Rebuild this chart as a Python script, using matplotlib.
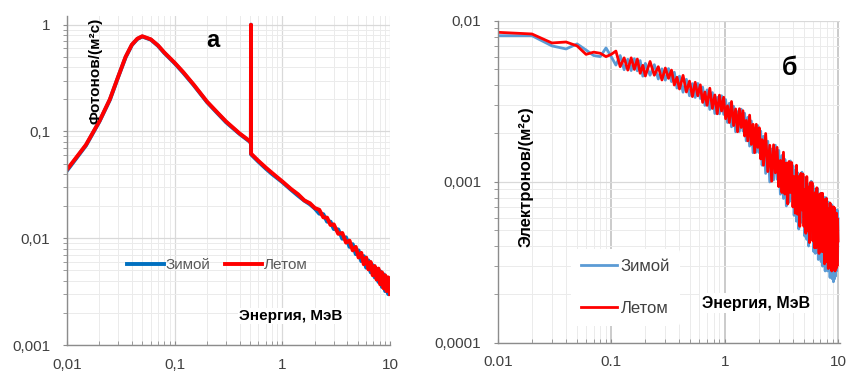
import matplotlib

matplotlib.use("Agg")
import matplotlib.pyplot as plt
from matplotlib.ticker import FixedLocator, FixedFormatter, LogLocator, NullFormatter

# ---- panel a: photons ----
photon_energy = [
    0.01, 0.015, 0.02, 0.025, 0.03, 0.035, 0.04, 0.045, 0.05, 0.06,
    0.07, 0.08, 0.1, 0.12, 0.15, 0.2, 0.25, 0.3, 0.4, 0.5,
    0.51, 0.511, 0.512, 0.6, 0.7, 0.8, 1.0, 1.2, 1.4, 1.6,
    1.8, 2.0, 2.2, 2.4, 2.6, 2.8, 3.0, 3.3, 3.6, 3.9,
    4.2, 4.5, 4.8, 5.1, 5.4, 5.7, 6.0, 6.3, 6.6, 6.9,
    7.2, 7.5, 7.8, 8.1, 8.4, 8.7, 9.0, 9.3, 9.6, 10.0,
]
photon_winter = [
    0.043, 0.074, 0.124, 0.198, 0.328, 0.495, 0.645, 0.735, 0.775, 0.725,
    0.635, 0.545, 0.435, 0.355, 0.272, 0.188, 0.148, 0.122, 0.095, 0.080,
    0.077, 1.0, 0.061, 0.052, 0.045, 0.040, 0.0335, 0.0285, 0.025, 0.0225,
    0.0208, 0.0190, 0.0170, 0.0168, 0.0143, 0.0143, 0.0122, 0.0121, 0.0099, 0.0102,
    0.0083, 0.0088, 0.0071, 0.0077, 0.0061, 0.0068, 0.0053, 0.0062, 0.0048, 0.0056,
    0.0043, 0.0052, 0.0039, 0.0049, 0.0035, 0.0046, 0.0032, 0.0043, 0.0030, 0.0042,
]
photon_summer = [
    0.044, 0.075, 0.125, 0.200, 0.330, 0.500, 0.650, 0.740, 0.780, 0.730,
    0.640, 0.550, 0.440, 0.360, 0.275, 0.190, 0.150, 0.124, 0.096, 0.081,
    0.078, 1.0, 0.062, 0.053, 0.046, 0.041, 0.034, 0.029, 0.0258, 0.0226,
    0.0213, 0.0192, 0.0185, 0.0157, 0.0156, 0.0133, 0.0135, 0.0110, 0.0112, 0.0091,
    0.0095, 0.0077, 0.0083, 0.0066, 0.0073, 0.0057, 0.0066, 0.0051, 0.0060, 0.0045,
    0.0055, 0.0041, 0.0052, 0.0037, 0.0048, 0.0034, 0.0045, 0.0032, 0.0043, 0.0030,
]

# ---- panel b: electrons (values in units of 1e-4) ----
electron_energy = [
    0.01, 0.02, 0.03, 0.04, 0.05, 0.06, 0.07, 0.08, 0.09, 0.10,
    0.11, 0.12, 0.13, 0.14, 0.15, 0.16, 0.17, 0.18, 0.19, 0.20,
    0.22, 0.24, 0.26, 0.28, 0.30, 0.32, 0.34, 0.36, 0.38, 0.40,
    0.43, 0.46, 0.49, 0.52, 0.55, 0.58, 0.61, 0.64, 0.67, 0.70,
    0.74, 0.78, 0.82, 0.86, 0.90, 0.94, 0.98, 1.02, 1.06, 1.10,
    1.15, 1.20, 1.25, 1.30, 1.35, 1.40, 1.45, 1.50, 1.55, 1.60,
    1.66, 1.72, 1.78, 1.84, 1.90, 1.96, 2.02, 2.08, 2.14, 2.20,
    2.3, 2.4, 2.5, 2.6, 2.7, 2.8, 2.9, 3.0, 3.1, 3.2,
    3.3, 3.4, 3.5, 3.6, 3.7, 3.8, 3.9, 4.0, 4.1, 4.2,
    4.3, 4.4, 4.5, 4.6, 4.7, 4.8, 4.9, 5.0, 5.1, 5.2,
    5.3, 5.4, 5.5, 5.6, 5.7, 5.8, 5.9, 6.0, 6.1, 6.2,
    6.3, 6.4, 6.5, 6.6, 6.7, 6.8, 6.9, 7.0, 7.1, 7.2,
    7.3, 7.4, 7.5, 7.6, 7.7, 7.8, 7.9, 8.0, 8.1, 8.2,
    8.3, 8.4, 8.5, 8.6, 8.7, 8.8, 8.9, 9.0, 9.1, 9.2,
    9.3, 9.4, 9.5, 9.6, 9.7, 9.8, 9.9, 10.0,
]
electron_winter = [
    81, 81, 70, 67, 72, 66, 61, 60, 68, 60,
    53.2, 61, 49.8, 57.8, 49.2, 58.3, 49, 56.7, 45.4, 54.5,
    46, 53.5, 43.6, 50.4, 42.9, 50.6, 42, 48, 38.3, 45.4,
    36.1, 43.4, 34.3, 40.8, 33.5, 40.9, 33.0, 38.8, 29.9, 37.3,
    28.2, 35.9, 26.6, 33.5, 26.5, 34.3, 26.3, 32.5, 23.4, 30.8,
    22.0, 29.5, 20.5, 27.3, 20.6, 28.3, 20.7, 26.7, 18.0, 25.2,
    16.7, 23.9, 15.2, 21.6, 15.3, 22.4, 15.2, 20.7, 12.7, 19.2,
    11.3, 17.9, 10.0, 16.0, 10.3, 16.9, 10.4, 15.7, 8.4, 14.6,
    7.9, 13.8, 7.1, 12.4, 7.5, 13.5, 7.9, 12.6, 6.2, 11.8,
    5.7, 11.4, 5.1, 10.2, 5.6, 11.5, 6.1, 10.7, 4.6, 10.0,
    4.4, 9.7, 4.0, 8.8, 4.5, 10.1, 5.1, 9.5, 3.7, 9.0,
    3.6, 8.8, 3.9, 9.1, 3.3, 7.8, 3.8, 8.5, 3.2, 7.7,
    3.0, 8.1, 3.3, 7.3, 2.8, 8.0, 3.3, 7.3, 2.8, 7.5,
    2.9, 7.3, 2.55, 6.8, 2.9, 7.2, 2.5, 6.3, 2.4, 6.7,
    2.5, 6.6, 2.6, 6.3, 2.8, 6.7, 3.2, 5.9,
]
electron_summer = [
    85, 83, 73, 74, 70, 62, 64, 63, 60, 62,
    65, 52, 59, 49.5, 59, 50, 58, 47.3, 53, 45.5,
    56, 46, 52, 43, 51, 44, 49.5, 40, 44.7, 37.8,
    45.9, 36.2, 42.3, 33.9, 41.6, 34.3, 40.1, 31.2, 36.2, 29.9,
    38.2, 28.6, 34.7, 26.5, 34.6, 27.6, 33.6, 24.7, 29.7, 23.4,
    31.6, 22.4, 28.4, 20.5, 28.5, 21.8, 27.7, 19.3, 24.1, 18.0,
    26.0, 17.1, 22.8, 15.2, 22.8, 16.4, 21.7, 13.9, 18.3, 12.7,
    20.0, 11.6, 16.9, 10.1, 17.0, 11.4, 16.4, 9.35, 13.6, 8.6,
    15.3, 8.4, 13.1, 7.3, 13.4, 8.6, 13.2, 7.0, 10.8, 6.4,
    12.7, 6.3, 10.8, 5.3, 11.3, 6.7, 11.2, 5.3, 9.0, 4.8,
    10.8, 5.0, 9.3, 4.2, 9.9, 5.6, 9.9, 4.3, 7.9, 3.9,
    8.6, 3.9, 9.2, 4.6, 7.6, 3.6, 8.4, 4.0, 8.5, 3.7,
    8.5, 3.7, 7.2, 3.1, 7.8, 4.2, 7.9, 3.2, 6.3, 2.9,
    6.8, 3.0, 7.4, 3.5, 6.0, 2.8, 7.0, 3.1, 7.0, 2.9,
    6.9, 2.8, 6.3, 2.9, 6.4, 3.0, 5.9, 4.3,
]
electron_unit = 1e-4

labels = ["Зимой", "Летом"]
left_xticks = [0.01, 0.1, 1, 10]
left_xticklabels = ["0,01", "0,1", "1", "10"]
left_yticks = [0.001, 0.01, 0.1, 1]
left_yticklabels = ["0,001", "0,01", "0,1", "1"]
right_xticklabels = ["0.01", "0.1", "1", "10"]
right_yticks = [0.0001, 0.001, 0.01]
right_yticklabels = ["0,0001", "0,001", "0,01"]

plt.rcParams["font.family"] = ["Liberation Sans", "DejaVu Sans"]


def style_axes(ax, xticks, xlabels, yticks, ylabels):
    ax.set_xscale("log")
    ax.set_yscale("log")
    ax.xaxis.set_major_locator(FixedLocator(xticks))
    ax.xaxis.set_major_formatter(FixedFormatter(xlabels))
    ax.yaxis.set_major_locator(FixedLocator(yticks))
    ax.yaxis.set_major_formatter(FixedFormatter(ylabels))
    for axis in (ax.xaxis, ax.yaxis):
        axis.set_minor_locator(LogLocator(base=10, subs=range(2, 10), numticks=20))
        axis.set_minor_formatter(NullFormatter())
    for side in ("top", "right"):
        ax.spines[side].set_visible(False)
    for side in ("left", "bottom"):
        ax.spines[side].set_color("#8c8c8c")
        ax.spines[side].set_linewidth(1.0)
    ax.tick_params(axis="x", which="both", direction="in", length=3,
                   color="#8c8c8c", pad=9, labelsize=11, labelcolor="#404040")
    ax.tick_params(axis="y", which="both", direction="out", length=3,
                   color="#8c8c8c", pad=9, labelsize=11, labelcolor="#404040")
    ax.grid(which="minor", color="#ebebeb", linewidth=0.7)
    ax.grid(which="major", color="#d9d9d9", linewidth=0.9)
    ax.set_axisbelow(True)


fig = plt.figure(figsize=(8.48, 3.74), dpi=100)
ax1 = fig.add_axes([0.079, 0.0775, 0.381, 0.879])
ax2 = fig.add_axes([0.587, 0.083, 0.403, 0.861])

# panel a
style_axes(ax1, left_xticks, left_xticklabels, left_yticks, left_yticklabels)
ax1.plot(photon_energy, photon_winter, color="#0070C0", lw=2.8, label=labels[0])
ax1.plot(photon_energy, photon_summer, color="#FF0000", lw=2.8, label=labels[1])
ax1.set_xlim(0.01, 10)
ax1.set_ylim(0.001, 1.2)
ax1.legend(loc="center", bbox_to_anchor=(0.465, 0.243), ncol=2, frameon=False,
           handlelength=2.4, handletextpad=0.1, columnspacing=1.0,
           fontsize=11, labelcolor="#595959")
ax1.text(0.087, 0.833, "Фотонов/(м\u00b2с)", transform=ax1.transAxes, rotation=90,
         ha="center", va="center", fontsize=11, fontweight="bold")
ax1.text(0.693, 0.088, "Энергия, МэВ", transform=ax1.transAxes,
         ha="center", va="center", fontsize=11, fontweight="bold",
         bbox=dict(facecolor="white", edgecolor="none", pad=1))
ax1.text(0.452, 0.925, "а", transform=ax1.transAxes,
         ha="center", va="center", fontsize=17, fontweight="bold")

# panel b
style_axes(ax2, left_xticks, right_xticklabels, right_yticks, right_yticklabels)
ax2.xaxis.grid(which="major", color="#bdbdbd", linewidth=1.1)
ax2.plot(electron_energy, [v * electron_unit for v in electron_winter],
         color="#5B9BD5", lw=2.0, label=labels[0])
ax2.plot(electron_energy, [v * electron_unit for v in electron_summer],
         color="#FF0000", lw=2.0, label=labels[1])
ax2.set_xlim(0.01, 10.3)
ax2.set_ylim(0.0001, 0.01)
ax2.legend(loc="center", bbox_to_anchor=(0.373, 0.172), ncol=1, frameon=True,
           facecolor="white", edgecolor="none", framealpha=1,
           handlelength=2.2, handletextpad=0.2, labelspacing=1.6,
           fontsize=12, labelcolor="#404040", borderpad=0.6)
ax2.text(0.082, 0.515, "Электронов/(м\u00b2с)", transform=ax2.transAxes, rotation=90,
         ha="center", va="center", fontsize=12, fontweight="bold")
ax2.text(0.757, 0.124, "Энергия, МэВ", transform=ax2.transAxes,
         ha="center", va="center", fontsize=11.5, fontweight="bold",
         bbox=dict(facecolor="white", edgecolor="none", pad=2))
ax2.text(0.855, 0.855, "б", transform=ax2.transAxes,
         ha="center", va="center", fontsize=18, fontweight="bold")

fig.savefig("out.png", dpi=100)
